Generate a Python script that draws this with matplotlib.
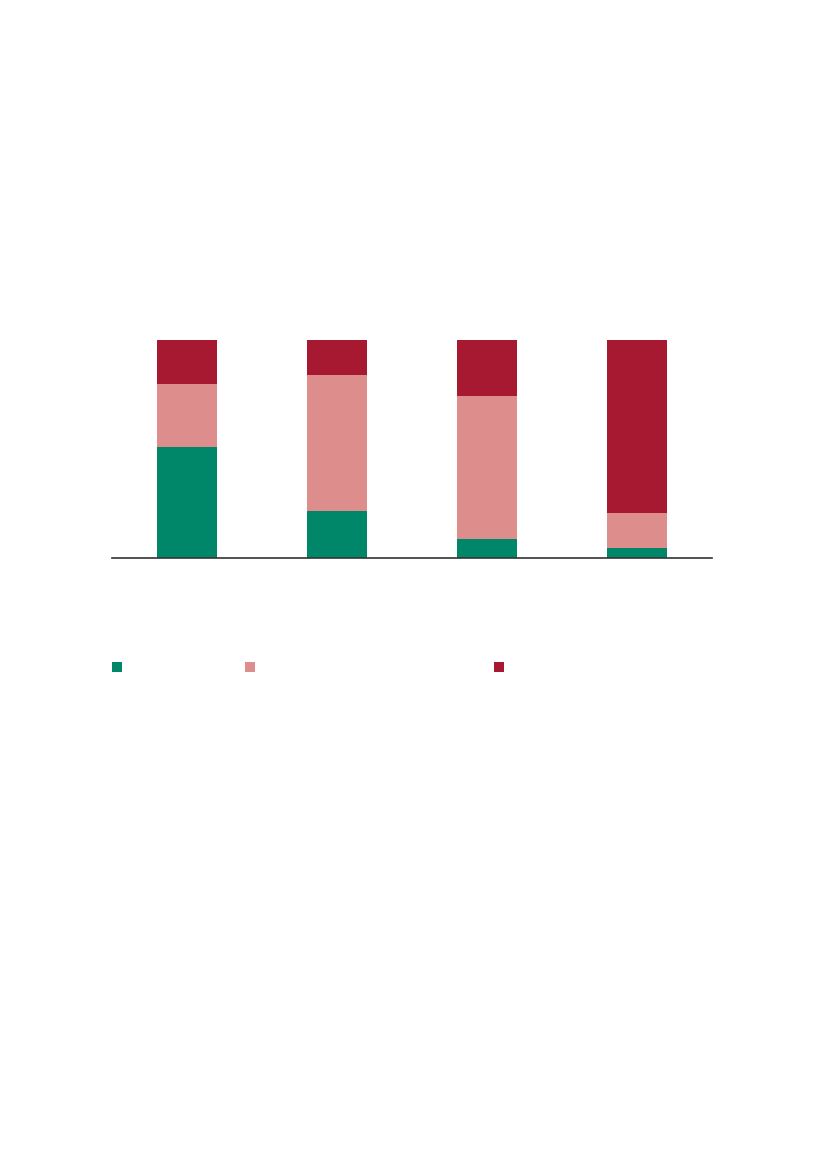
import matplotlib
matplotlib.use("Agg")
import matplotlib.pyplot as plt
from matplotlib.patches import Patch
import numpy as np

categories = ["A", "B", "C", "D"]
series_names = ["Series 1", "Series 2", "Series 3"]
green_vals = [0.51, 0.215, 0.087, 0.046]
pink_vals = [0.29, 0.625, 0.656, 0.160]
red_vals = [0.20, 0.160, 0.257, 0.794]
colors = ["#00876A", "#DC8D8C", "#A71930"]

W, H = 827, 1169
fig = plt.figure(figsize=(W / 100, H / 100), dpi=100)
ax = fig.add_axes([112 / W, (H - 558) / H, 600 / W, 218 / H])

x = np.arange(len(categories))
bottom = np.zeros(len(categories))
for vals, c in zip([green_vals, pink_vals, red_vals], colors):
    ax.bar(x, vals, width=0.4, bottom=bottom, color=c, edgecolor="none")
    bottom += np.array(vals)

ax.set_xlim(-0.5, 3.5)
ax.set_ylim(0, 1)
for s in ["top", "left", "right"]:
    ax.spines[s].set_visible(False)
ax.spines["bottom"].set_color("#333333")
ax.spines["bottom"].set_linewidth(1.2)
ax.set_xticks([])
ax.set_yticks([])

legend_x = [112, 245, 494]
for lx, c in zip(legend_x, colors):
    leg = fig.legend(handles=[Patch(facecolor=c, edgecolor="none")], labels=[""],
                     loc="center left", bbox_to_anchor=(lx / W, 1 - 668 / H),
                     frameon=False, borderpad=0, borderaxespad=0, handletextpad=0,
                     handlelength=0.72, handleheight=0.72, fontsize=10)

fig.savefig("out.png", dpi=100)
